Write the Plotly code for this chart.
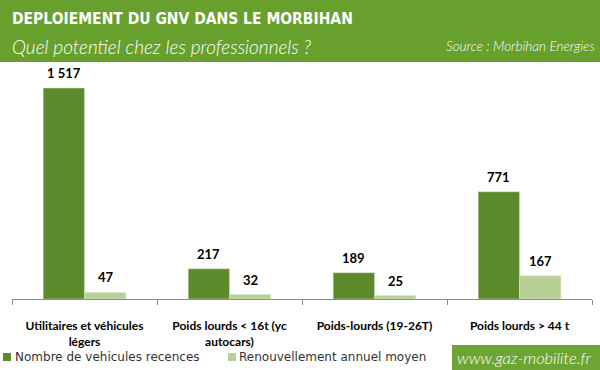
import plotly.graph_objects as go

categories = ["Utilitaires et véhicules<br>légers", "Poids lourds &lt; 16t (yc<br>autocars)",
              "Poids-lourds (19-26T)", "Poids lourds &gt; 44 t"]
series_names = ["Nombre de vehicules recences", "Renouvellement annuel moyen"]
vehicules = [1517, 217, 189, 771]
renouvellement = [47, 32, 25, 167]

DARK = "#5E8A2E"
LIGHT = "#B9CF98"
HEADER = "#68A02D"

W, H = 600, 370
L, R, T, B = 12, 8, 65, 71
pw, ph = W - L - R, H - T - B

def px_x(p):
    return (p - L) / pw

def px_y(p):
    return (H - B - p) / ph

fig = go.Figure()
for name, vals, col in [(series_names[0], vehicules, DARK), (series_names[1], renouvellement, LIGHT)]:
    fig.add_trace(go.Bar(
        x=categories, y=vals, name=name,
        marker=dict(color=col, line=dict(color="#D8E4C8", width=0.5)),
        showlegend=False,
    ))

annotations = []
# value labels, placed at each bar's value through the axes
for vals, shift in [(vehicules, -21), (renouvellement, 21)]:
    for c, v in zip(categories, vals):
        annotations.append(dict(
            x=c, y=v, xref="x", yref="y", text=f"{v:,}".replace(",", " "),
            showarrow=False, xshift=shift, yshift=15, yanchor="middle",
            font=dict(family="Lato", size=13, color="#000000", weight="bold")))

annotations += [
    dict(text="DEPLOIEMENT DU GNV DANS LE MORBIHAN", xref="paper", yref="paper",
         x=px_x(10), y=px_y(19), xanchor="left", yanchor="middle", showarrow=False,
         font=dict(family="DejaVu Sans Condensed", size=15.5, color="white", weight="bold")),
    dict(text="Quel potentiel chez les professionnels ?", xref="paper", yref="paper",
         x=px_x(10), y=px_y(46), xanchor="left", yanchor="middle", showarrow=False,
         font=dict(family="Lato", size=19, color="white", style="italic", weight=300)),
    dict(text="Source : Morbihan Energies", xref="paper", yref="paper",
         x=px_x(597), y=px_y(46), xanchor="right", yanchor="middle", showarrow=False,
         font=dict(family="Lato", size=13.5, color="white", style="italic", weight=300)),
    dict(text="www.gaz-mobilite.fr", xref="paper", yref="paper",
         x=px_x(594), y=px_y(358), xanchor="right", yanchor="middle", showarrow=False,
         font=dict(family="Lato", size=16.5, color="white", style="italic", weight=300)),
    dict(text=series_names[0], xref="paper", yref="paper",
         x=px_x(13), y=px_y(357), xanchor="left", yanchor="middle", showarrow=False,
         font=dict(family="DejaVu Sans", size=12, color="#333333")),
    dict(text=series_names[1], xref="paper", yref="paper",
         x=px_x(237), y=px_y(357), xanchor="left", yanchor="middle", showarrow=False,
         font=dict(family="DejaVu Sans", size=12, color="#333333")),
]

fig.update_layout(
    width=W, height=H,
    margin=dict(l=L, r=R, t=T, b=B, autoexpand=False),
    paper_bgcolor="white", plot_bgcolor="white",
    barmode="group", bargap=0.43, bargroupgap=0,
    showlegend=False,
    xaxis=dict(showline=True, linecolor="#8C8C8C", linewidth=1, ticks="outside",
               tickson="boundaries", ticklen=5, tickcolor="#8C8C8C",
               tickfont=dict(family="Lato", size=12, color="#000000", weight="bold"),
               ticklabelstandoff=16, automargin=False),
    yaxis=dict(range=[0, 1517 / 211 * ph], visible=False),
    shapes=[
        dict(type="rect", xref="paper", yref="paper", x0=px_x(0), x1=px_x(W),
             y0=px_y(62), y1=px_y(0), fillcolor=HEADER, line=dict(width=0), layer="below"),
        dict(type="rect", xref="paper", yref="paper", x0=px_x(452), x1=px_x(W),
             y0=px_y(H), y1=px_y(345), fillcolor="#6DA535", line=dict(width=0), layer="below"),
        dict(type="rect", xref="paper", yref="paper", x0=px_x(3), x1=px_x(11),
             y0=px_y(361), y1=px_y(353), fillcolor=DARK, line=dict(width=0)),
        dict(type="rect", xref="paper", yref="paper", x0=px_x(228), x1=px_x(236),
             y0=px_y(361), y1=px_y(353), fillcolor=LIGHT, line=dict(width=0)),
    ],
    annotations=annotations,
)

fig.write_html("out.html", config={"displayModeBar": False},
               post_script="document.body.style.margin='0';document.body.style.padding='0';")
